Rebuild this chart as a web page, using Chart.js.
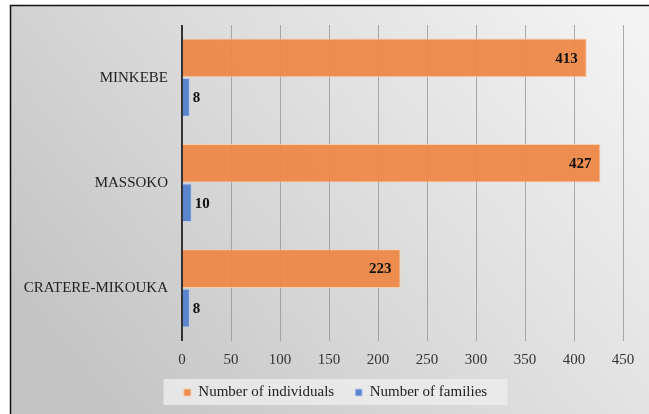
<!DOCTYPE html>
<html>
<head>
<meta charset="utf-8">
<script src="https://cdn.jsdelivr.net/npm/chart.js@4.4.1/dist/chart.umd.min.js"></script>
<style>
  html, body { margin: 0; padding: 0; background: #ffffff; }
  #wrap { width: 649px; height: 414px; }
</style>
</head>
<body>
<div id="wrap"><canvas id="myChart" width="649" height="414"></canvas></div>
<script>
// values
var sites = ['MINKEBE', 'MASSOKO', 'CRATERE-MIKOUKA'];
var individuals = [413, 427, 223];
var families = [8, 10, 8];
var xTicksMax = 450;
var xTicksStep = 50;

var serif = '"Liberation Serif", "Times New Roman", serif';

// grey gradient panel with a thin border, like the exported office chart
const panelBackground = {
    id: 'panelBackground',
    afterLayout(chart) {
        // the legend sits a little right of the canvas centre
        chart.legend.left += 19;
        chart.legend.right += 19;
    },
    beforeDraw(chart) {
        const ctx = chart.ctx;
        ctx.save();
        let grad = ctx.createLinearGradient(620, 20, 120, 430);
        grad.addColorStop(0, '#f3f3f3');
        grad.addColorStop(0.55, '#dadada');
        grad.addColorStop(1, '#c4c4c4');
        ctx.fillStyle = grad;
        ctx.fillRect(10, 5, 660, 420);
        ctx.strokeStyle = '#111';
        ctx.lineWidth = 1.5;
        ctx.strokeRect(10.5, 5.5, 660, 420);

        // lighter box behind the legend
        let lg = chart.legend;
        let mid = (lg.left + lg.right) / 2;
        ctx.fillStyle = 'rgba(238,238,238,0.8)';
        ctx.fillRect(mid - 172, lg.top + 15, 344, 26);
        ctx.restore();
    }
};

// bold value labels at the bar ends
const valueLabels = {
    id: 'valueLabels',
    afterDatasetsDraw(chart) {
        const ctx = chart.ctx;
        ctx.save();
        ctx.font = 'bold 15px ' + serif;
        ctx.fillStyle = '#111';
        ctx.textBaseline = 'middle';
        chart.data.datasets.forEach(function (ds, i) {
            let meta = chart.getDatasetMeta(i);
            meta.data.forEach(function (bar, j) {
                if (i === 0) {
                    ctx.textAlign = 'right';
                    ctx.fillText(ds.data[j], bar.x - 9, bar.y + 1);
                } else {
                    ctx.textAlign = 'left';
                    ctx.fillText(ds.data[j], bar.x + 3, bar.y + 1);
                }
            });
        });
        ctx.restore();
    }
};

var config = {
    type: 'bar',
    data: {
        labels: sites,
        datasets: [{
            label: 'Number of individuals',
            data: individuals,
            backgroundColor: 'rgba(237,136,72,0.95)',
            borderColor: 'rgba(250,205,170,0.9)',
            borderWidth: 1,
            categoryPercentage: 0.75,
            barPercentage: 0.98
        }, {
            label: 'Number of families',
            data: families,
            backgroundColor: 'rgb(91,133,207)',
            borderColor: 'rgba(190,205,235,0.9)',
            borderWidth: 1,
            categoryPercentage: 0.75,
            barPercentage: 0.98
        }]
    },
    options: {
        indexAxis: 'y',
        responsive: false,
        animation: false,
        layout: { padding: { left: 10, right: 26, top: 25, bottom: 4 } },
        scales: {
            x: {
                min: 0,
                max: xTicksMax,
                ticks: {
                    stepSize: xTicksStep,
                    color: '#333',
                    padding: 10,
                    font: { family: serif, size: 15 }
                },
                grid: {
                    color: function (c) { return c.tick && c.tick.value === 0 ? '#333' : 'rgba(145,145,145,0.75)'; },
                    lineWidth: function (c) { return c.tick && c.tick.value === 0 ? 2 : 1; },
                    drawTicks: false
                },
                border: { display: false },
                afterFit(scale) { scale.height = 23; }
            },
            y: {
                ticks: {
                    color: '#222',
                    padding: 6,
                    font: { family: serif, size: 15 }
                },
                grid: { display: false },
                border: { display: false },
                afterFit(scale) { scale.width = 172; }
            }
        },
        plugins: {
            legend: {
                position: 'bottom',
                labels: {
                    boxWidth: 7,
                    boxHeight: 7,
                    padding: 21,
                    color: '#222',
                    font: { family: serif, size: 15 }
                }
            },
            tooltip: { enabled: false }
        }
    },
    plugins: [panelBackground, valueLabels]
};

var myChart = new Chart(document.getElementById('myChart'), config);
</script>
</body>
</html>
